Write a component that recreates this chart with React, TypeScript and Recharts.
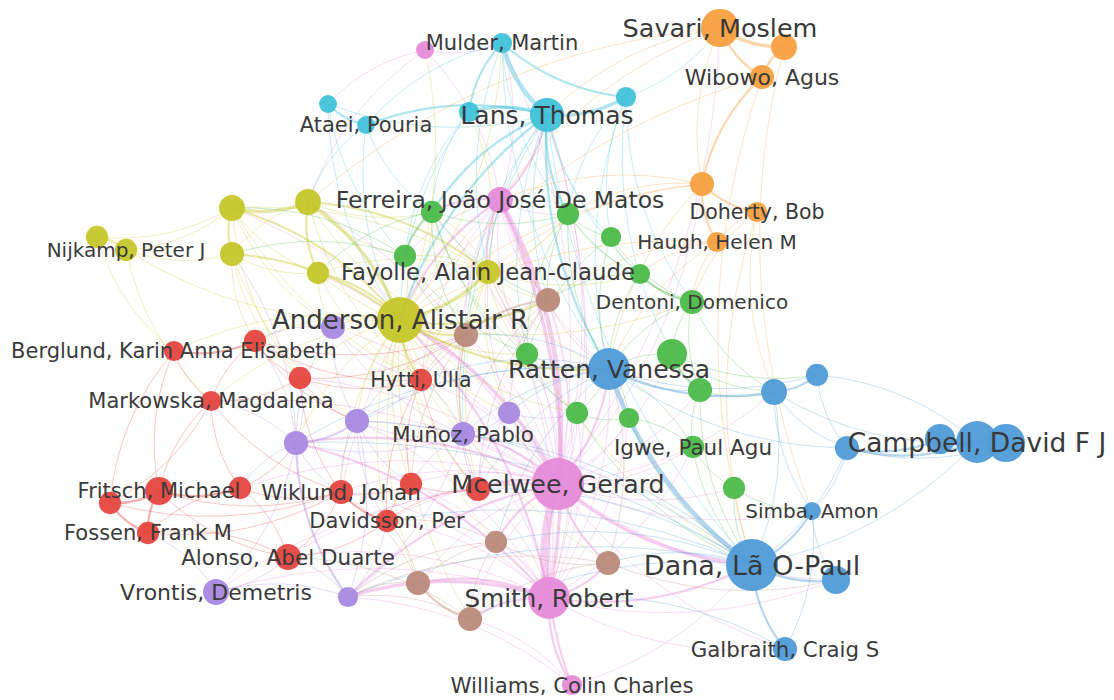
import React from 'react';
import { ScatterChart, Scatter, XAxis, YAxis, ZAxis, ReferenceLine } from 'recharts';

type MapNode = { id: string; x: number; y: number; w: number; label?: string };

// map coordinates (x to the right, y downward) and weights (documents)
const redNodes: MapNode[] = [
  { id: 'r_berglund', x: 174, y: 351, w: 14, label: 'Berglund, Karin Anna Elisabeth' },
  { id: 'r_1', x: 255, y: 341, w: 17 },
  { id: 'r_2', x: 300, y: 378, w: 17 },
  { id: 'r_hytti', x: 421, y: 380, w: 17, label: 'Hytti, Ulla' },
  { id: 'r_markowska', x: 211, y: 401, w: 14, label: 'Markowska, Magdalena' },
  { id: 'r_f0', x: 110, y: 503, w: 17 },
  { id: 'r_fritsch', x: 159, y: 491, w: 27, label: 'Fritsch, Michael' },
  { id: 'r_3', x: 240, y: 488, w: 17 },
  { id: 'r_wiklund', x: 341, y: 492, w: 20, label: 'Wiklund, Johan' },
  { id: 'r_4', x: 411, y: 484, w: 17 },
  { id: 'r_5', x: 478, y: 489, w: 20 },
  { id: 'r_davidsson', x: 387, y: 521, w: 17, label: 'Davidsson, Per' },
  { id: 'r_fossen', x: 148, y: 533, w: 17, label: 'Fossen, Frank M' },
  { id: 'r_alonso', x: 288, y: 557, w: 23, label: 'Alonso, Abel Duarte' },
];

const greenNodes: MapNode[] = [
  { id: 'g_1', x: 432, y: 212, w: 17 },
  { id: 'g_2', x: 568, y: 214, w: 17 },
  { id: 'g_3', x: 611, y: 237, w: 14 },
  { id: 'g_4', x: 405, y: 256, w: 17 },
  { id: 'g_5', x: 640, y: 274, w: 14 },
  { id: 'g_dentoni', x: 692, y: 302, w: 20, label: 'Dentoni, Domenico' },
  { id: 'g_6', x: 527, y: 354, w: 17 },
  { id: 'g_7', x: 672, y: 354, w: 31 },
  { id: 'g_8', x: 700, y: 390, w: 20 },
  { id: 'g_9', x: 577, y: 413, w: 17 },
  { id: 'g_10', x: 629, y: 418, w: 14 },
  { id: 'g_igwe', x: 693, y: 447, w: 17, label: 'Igwe, Paul Agu' },
  { id: 'g_11', x: 734, y: 488, w: 17 },
];

const blueNodes: MapNode[] = [
  { id: 'b_ratten', x: 609, y: 369, w: 60, label: 'Ratten, Vanessa' },
  { id: 'b_1', x: 774, y: 392, w: 23 },
  { id: 'b_2', x: 817, y: 375, w: 17 },
  { id: 'b_3', x: 847, y: 448, w: 20 },
  { id: 'b_4', x: 940, y: 439, w: 31 },
  { id: 'b_5', x: 1006, y: 443, w: 50 },
  { id: 'b_campbell', x: 977, y: 442, w: 60, label: 'Campbell, David F J' },
  { id: 'b_simba', x: 812, y: 511, w: 11, label: 'Simba, Amon' },
  { id: 'b_dana', x: 752, y: 565, w: 93, label: 'Dana, Lã O-Paul' },
  { id: 'b_6', x: 836, y: 580, w: 27 },
  { id: 'b_galbraith', x: 785, y: 649, w: 20, label: 'Galbraith, Craig S' },
];

const yellowNodes: MapNode[] = [
  { id: 'y_1', x: 232, y: 208, w: 23 },
  { id: 'y_2', x: 308, y: 202, w: 23 },
  { id: 'y_nij0', x: 97, y: 237, w: 17 },
  { id: 'y_nijkamp', x: 126, y: 250, w: 17, label: 'Nijkamp, Peter J' },
  { id: 'y_3', x: 232, y: 254, w: 20 },
  { id: 'y_4', x: 318, y: 273, w: 17 },
  { id: 'y_fayolle', x: 488, y: 272, w: 20, label: 'Fayolle, Alain Jean-Claude' },
  { id: 'y_anderson', x: 400, y: 320, w: 73, label: 'Anderson, Alistair R' },
];

const purpleNodes: MapNode[] = [
  { id: 'u_1', x: 333, y: 327, w: 20 },
  { id: 'u_2', x: 296, y: 443, w: 20 },
  { id: 'u_3', x: 357, y: 421, w: 20 },
  { id: 'u_munoz', x: 463, y: 434, w: 20, label: 'Muñoz, Pablo' },
  { id: 'u_4', x: 509, y: 413, w: 17 },
  { id: 'u_vrontis', x: 216, y: 592, w: 23, label: 'Vrontis, Demetris' },
  { id: 'u_5', x: 348, y: 597, w: 14 },
];

const cyanNodes: MapNode[] = [
  { id: 'c_mulder', x: 502, y: 43, w: 14, label: 'Mulder, Martin' },
  { id: 'c_lans2', x: 469, y: 112, w: 14 },
  { id: 'c_lans', x: 547, y: 115, w: 40, label: 'Lans, Thomas' },
  { id: 'c_a2', x: 328, y: 104, w: 11 },
  { id: 'c_ataei', x: 366, y: 125, w: 11, label: 'Ataei, Pouria' },
  { id: 'c_r', x: 626, y: 97, w: 14 },
];

const orangeNodes: MapNode[] = [
  { id: 'o_savari', x: 720, y: 28, w: 50, label: 'Savari, Moslem' },
  { id: 'o_2', x: 784, y: 47, w: 23 },
  { id: 'o_wibowo', x: 762, y: 77, w: 20, label: 'Wibowo, Agus' },
  { id: 'o_3', x: 702, y: 184, w: 20 },
  { id: 'o_doherty', x: 757, y: 212, w: 14, label: 'Doherty, Bob' },
  { id: 'o_haugh', x: 717, y: 242, w: 14, label: 'Haugh, Helen M' },
];

const brownNodes: MapNode[] = [
  { id: 'br_1', x: 548, y: 300, w: 20 },
  { id: 'br_2', x: 466, y: 335, w: 20 },
  { id: 'br_3', x: 496, y: 542, w: 17 },
  { id: 'br_4', x: 608, y: 563, w: 20 },
  { id: 'br_5', x: 418, y: 583, w: 20 },
  { id: 'br_6', x: 470, y: 619, w: 20 },
];

const pinkNodes: MapNode[] = [
  { id: 'p_top', x: 425, y: 50, w: 11 },
  { id: 'p_ferreira', x: 500, y: 200, w: 23, label: 'Ferreira, João José De Matos' },
  { id: 'p_mcelwee', x: 558, y: 484, w: 93, label: 'Mcelwee, Gerard' },
  { id: 'p_smith', x: 549, y: 598, w: 60, label: 'Smith, Robert' },
  { id: 'p_williams', x: 572, y: 685, w: 14, label: 'Williams, Colin Charles' },
];

// co-authorship links: [source, target, strength]
const links: [string, string, number][] = [
  // pink
  ['p_mcelwee', 'p_smith', 6], ['p_mcelwee', 'p_ferreira', 4], ['p_mcelwee', 'p_williams', 2], ['p_mcelwee', 'y_anderson', 3],
  ['p_mcelwee', 'b_ratten', 2], ['p_mcelwee', 'b_dana', 3], ['p_mcelwee', 'c_lans', 1], ['p_mcelwee', 'c_mulder', 1],
  ['p_mcelwee', 'y_fayolle', 1], ['p_mcelwee', 'br_1', 1], ['p_mcelwee', 'br_2', 1], ['p_mcelwee', 'br_3', 2],
  ['p_mcelwee', 'br_4', 2], ['p_mcelwee', 'br_5', 1], ['p_mcelwee', 'br_6', 1], ['p_mcelwee', 'u_1', 1],
  ['p_mcelwee', 'u_2', 2], ['p_mcelwee', 'u_3', 1], ['p_mcelwee', 'u_munoz', 2], ['p_mcelwee', 'u_4', 1],
  ['p_mcelwee', 'u_5', 2], ['p_mcelwee', 'u_vrontis', 1], ['p_mcelwee', 'r_hytti', 1], ['p_mcelwee', 'r_wiklund', 1],
  ['p_mcelwee', 'r_4', 1], ['p_mcelwee', 'r_5', 2], ['p_mcelwee', 'r_davidsson', 1], ['p_mcelwee', 'r_alonso', 1],
  ['p_mcelwee', 'r_2', 1], ['p_mcelwee', 'g_6', 1], ['p_mcelwee', 'g_9', 1], ['p_mcelwee', 'g_10', 1],
  ['p_mcelwee', 'g_igwe', 1], ['p_mcelwee', 'g_7', 1], ['p_mcelwee', 'g_1', 1], ['p_mcelwee', 'g_2', 1],
  ['p_mcelwee', 'y_2', 1], ['p_mcelwee', 'y_1', 1], ['p_mcelwee', 'y_4', 1], ['p_mcelwee', 'o_3', 1],
  ['p_mcelwee', 'o_savari', 1], ['p_mcelwee', 'b_1', 1], ['p_mcelwee', 'b_simba', 1], ['p_mcelwee', 'b_galbraith', 1],
  ['p_mcelwee', 'b_6', 1], ['p_mcelwee', 'r_3', 1], ['p_mcelwee', 'r_markowska', 1], ['p_mcelwee', 'g_11', 1],
  ['p_mcelwee', 'g_8', 1],
  ['p_smith', 'p_williams', 2], ['p_smith', 'p_ferreira', 3], ['p_smith', 'y_anderson', 2], ['p_smith', 'b_dana', 2],
  ['p_smith', 'b_ratten', 1], ['p_smith', 'br_3', 1], ['p_smith', 'br_4', 2], ['p_smith', 'br_5', 2],
  ['p_smith', 'br_6', 2], ['p_smith', 'u_5', 3], ['p_smith', 'u_2', 2], ['p_smith', 'u_3', 1],
  ['p_smith', 'u_munoz', 1], ['p_smith', 'r_alonso', 1], ['p_smith', 'r_davidsson', 1], ['p_smith', 'r_wiklund', 1],
  ['p_smith', 'r_5', 1], ['p_smith', 'g_9', 1], ['p_smith', 'g_igwe', 1], ['p_smith', 'b_6', 1],
  ['p_smith', 'b_galbraith', 1], ['p_smith', 'u_vrontis', 1], ['p_smith', 'c_lans', 1], ['p_smith', 'y_fayolle', 1],
  ['p_smith', 'br_1', 1], ['p_smith', 'r_4', 1], ['p_smith', 'g_10', 1], ['p_smith', 'u_4', 1],
  ['p_ferreira', 'g_1', 2], ['p_ferreira', 'g_2', 1], ['p_ferreira', 'g_4', 1], ['p_ferreira', 'c_lans', 2],
  ['p_ferreira', 'c_mulder', 1], ['p_ferreira', 'y_fayolle', 2], ['p_ferreira', 'y_anderson', 2], ['p_ferreira', 'br_1', 1],
  ['p_ferreira', 'br_2', 1], ['p_ferreira', 'u_munoz', 1], ['p_ferreira', 'u_4', 1], ['p_ferreira', 'b_ratten', 1],
  ['p_ferreira', 'g_6', 1], ['p_ferreira', 'p_top', 1], ['p_ferreira', 'r_wiklund', 1], ['p_ferreira', 'r_hytti', 1],
  ['p_top', 'c_mulder', 1], ['p_top', 'c_a2', 1], ['p_top', 'y_2', 1],
  ['p_williams', 'b_dana', 1], ['p_williams', 'br_6', 1], ['p_williams', 'u_5', 1],
  // cyan
  ['c_mulder', 'c_lans', 4], ['c_mulder', 'c_lans2', 2], ['c_mulder', 'c_r', 2], ['c_mulder', 'c_ataei', 1],
  ['c_lans', 'c_r', 3], ['c_lans', 'c_lans2', 3], ['c_lans', 'c_ataei', 2], ['c_a2', 'c_ataei', 2],
  ['c_a2', 'c_lans', 1], ['c_lans', 'g_2', 2], ['c_lans', 'g_3', 1], ['c_lans', 'g_1', 2],
  ['c_lans', 'y_anderson', 2], ['c_lans', 'b_ratten', 2], ['c_lans', 'br_1', 1], ['c_lans', 'g_6', 1],
  ['c_lans', 'g_5', 1], ['c_lans', 'b_dana', 1], ['c_lans', 'y_fayolle', 1], ['c_lans2', 'g_1', 1],
  ['c_lans2', 'y_anderson', 1], ['c_lans2', 'g_4', 1], ['c_r', 'g_3', 1], ['c_r', 'g_2', 1],
  ['c_r', 'b_ratten', 1], ['c_r', 'g_7', 1], ['c_mulder', 'y_fayolle', 1], ['c_mulder', 'b_ratten', 1],
  ['c_ataei', 'y_anderson', 1], ['c_ataei', 'y_2', 1], ['c_a2', 'y_anderson', 1], ['c_r', 'o_savari', 1],
  ['c_lans', 'u_munoz', 1], ['c_lans', 'br_2', 1], ['c_ataei', 'g_1', 1], ['c_a2', 'g_4', 1],
  ['c_r', 'g_dentoni', 1], ['c_mulder', 'g_2', 1],
  // orange
  ['o_savari', 'o_2', 3], ['o_savari', 'o_wibowo', 2], ['o_2', 'o_wibowo', 2], ['o_wibowo', 'o_3', 2],
  ['o_savari', 'o_3', 1], ['o_3', 'o_doherty', 2], ['o_3', 'o_haugh', 2], ['o_doherty', 'o_haugh', 1],
  ['o_3', 'y_anderson', 1], ['o_3', 'y_fayolle', 1], ['o_3', 'p_ferreira', 1], ['o_3', 'g_2', 1],
  ['o_haugh', 'g_dentoni', 1], ['o_haugh', 'g_5', 1], ['o_haugh', 'br_1', 1], ['o_haugh', 'y_anderson', 1],
  ['o_doherty', 'g_dentoni', 1], ['o_doherty', 'b_dana', 1], ['o_2', 'b_simba', 1], ['o_wibowo', 'b_dana', 1],
  ['o_savari', 'c_lans', 1], ['o_savari', 'p_ferreira', 1], ['o_wibowo', 'y_anderson', 1], ['o_savari', 'y_2', 1],
  ['o_3', 'b_ratten', 1], ['o_haugh', 'b_ratten', 1], ['o_doherty', 'b_1', 1],
  // yellow
  ['y_1', 'y_2', 3], ['y_1', 'y_3', 2], ['y_1', 'y_4', 1], ['y_2', 'y_4', 2], ['y_2', 'y_3', 1], ['y_3', 'y_4', 1],
  ['y_nijkamp', 'y_nij0', 2], ['y_nijkamp', 'y_1', 1], ['y_nijkamp', 'y_3', 1], ['y_nij0', 'y_1', 1],
  ['y_nijkamp', 'y_anderson', 1], ['y_anderson', 'y_1', 2], ['y_anderson', 'y_2', 3], ['y_anderson', 'y_3', 2],
  ['y_anderson', 'y_4', 2], ['y_anderson', 'y_fayolle', 3], ['y_fayolle', 'y_2', 2], ['y_fayolle', 'y_1', 1],
  ['y_fayolle', 'y_4', 1], ['y_2', 'g_1', 1], ['y_2', 'g_4', 1], ['y_anderson', 'g_4', 1],
  ['y_anderson', 'g_1', 1], ['y_anderson', 'g_6', 1], ['y_anderson', 'br_1', 2], ['y_anderson', 'br_2', 2],
  ['y_anderson', 'u_1', 1], ['y_anderson', 'r_hytti', 2], ['y_anderson', 'r_1', 1], ['y_anderson', 'r_2', 1],
  ['y_anderson', 'b_ratten', 2], ['y_anderson', 'u_3', 1], ['y_anderson', 'u_munoz', 1], ['y_anderson', 'r_wiklund', 1],
  ['y_anderson', 'r_davidsson', 1], ['y_anderson', 'br_3', 1], ['y_anderson', 'br_5', 1], ['y_anderson', 'u_2', 1],
  ['y_anderson', 'g_dentoni', 1], ['y_fayolle', 'br_1', 1], ['y_fayolle', 'g_5', 1], ['y_fayolle', 'b_ratten', 1],
  ['y_fayolle', 'r_hytti', 1], ['y_fayolle', 'u_4', 1], ['y_nijkamp', 'r_markowska', 1], ['y_nij0', 'r_berglund', 1],
  ['y_3', 'r_1', 1], ['y_1', 'r_2', 1], ['y_4', 'u_1', 1],
  ['y_anderson', 'r_markowska', 1], ['y_anderson', 'r_berglund', 1], ['y_anderson', 'r_4', 1], ['y_anderson', 'r_5', 1],
  ['y_anderson', 'br_4', 1], ['y_anderson', 'br_6', 1], ['y_anderson', 'u_4', 1], ['y_anderson', 'g_9', 1],
  ['y_anderson', 'g_2', 1], ['y_anderson', 'c_mulder', 1], ['y_anderson', 'p_top', 1], ['y_fayolle', 'g_1', 1],
  ['y_fayolle', 'g_2', 1], ['y_fayolle', 'g_4', 1], ['y_fayolle', 'br_2', 1], ['y_fayolle', 'u_munoz', 1],
  ['y_fayolle', 'r_5', 1], ['y_fayolle', 'g_6', 1], ['y_fayolle', 'b_dana', 1], ['y_fayolle', 'c_lans2', 1],
  ['y_2', 'br_2', 1], ['y_2', 'r_hytti', 1], ['y_1', 'u_1', 1], ['y_1', 'r_hytti', 1], ['y_4', 'br_2', 1],
  ['y_4', 'r_hytti', 1], ['y_3', 'u_3', 1], ['y_3', 'r_2', 1],
  // green
  ['g_1', 'g_4', 2], ['g_1', 'g_2', 1], ['g_1', 'g_6', 1], ['g_1', 'g_9', 1], ['g_2', 'g_3', 1], ['g_2', 'g_5', 1],
  ['g_2', 'g_dentoni', 1], ['g_3', 'g_5', 1], ['g_3', 'g_dentoni', 1], ['g_5', 'g_dentoni', 2], ['g_dentoni', 'g_7', 1],
  ['g_dentoni', 'g_8', 1], ['g_7', 'g_8', 2], ['g_7', 'b_ratten', 1], ['g_8', 'g_igwe', 1], ['g_igwe', 'g_11', 1],
  ['g_igwe', 'g_10', 1], ['g_9', 'g_10', 1], ['g_9', 'b_ratten', 1], ['g_10', 'b_ratten', 1], ['g_6', 'b_ratten', 1],
  ['g_igwe', 'b_ratten', 1], ['g_igwe', 'b_dana', 1], ['g_11', 'b_dana', 1], ['g_11', 'b_simba', 1], ['g_8', 'b_1', 1],
  ['g_7', 'b_1', 1], ['g_4', 'g_6', 1], ['g_6', 'g_9', 1], ['g_2', 'b_ratten', 1], ['g_3', 'b_ratten', 1],
  ['g_5', 'b_ratten', 1], ['g_1', 'br_1', 1], ['g_4', 'br_2', 1], ['g_2', 'br_1', 1],
  ['g_1', 'br_2', 1], ['g_1', 'y_4', 1], ['g_4', 'y_1', 1], ['g_4', 'y_3', 1], ['g_2', 'g_6', 1], ['g_3', 'g_6', 1],
  ['g_5', 'br_1', 1], ['g_dentoni', 'b_ratten', 1], ['g_dentoni', 'b_1', 1], ['g_7', 'b_2', 1], ['g_8', 'b_dana', 1],
  ['g_10', 'b_dana', 1], ['g_9', 'b_dana', 1],
  // blue
  ['b_ratten', 'b_dana', 4], ['b_ratten', 'b_1', 2], ['b_ratten', 'b_2', 1], ['b_1', 'b_2', 2], ['b_1', 'b_3', 1],
  ['b_2', 'b_3', 1], ['b_1', 'b_campbell', 1], ['b_3', 'b_4', 2], ['b_3', 'b_campbell', 2], ['b_4', 'b_campbell', 3],
  ['b_campbell', 'b_5', 3], ['b_4', 'b_5', 1], ['b_3', 'b_5', 1], ['b_dana', 'b_simba', 2], ['b_dana', 'b_6', 2],
  ['b_dana', 'b_galbraith', 2], ['b_simba', 'b_6', 1], ['b_dana', 'b_3', 1], ['b_dana', 'b_1', 1], ['b_simba', 'b_3', 1],
  ['b_dana', 'b_campbell', 1], ['b_ratten', 'b_3', 1], ['b_ratten', 'g_8', 1], ['b_dana', 'br_4', 1], ['b_dana', 'br_3', 1],
  ['b_dana', 'u_5', 1], ['b_dana', 'u_2', 1], ['b_ratten', 'br_2', 1], ['b_ratten', 'r_hytti', 1], ['b_ratten', 'u_munoz', 1],
  ['b_ratten', 'u_4', 1], ['b_ratten', 'br_3', 1], ['b_ratten', 'u_2', 1], ['b_dana', 'u_munoz', 1], ['b_dana', 'r_5', 1],
  ['b_campbell', 'b_2', 1], ['b_1', 'b_simba', 1], ['b_galbraith', 'b_simba', 1], ['b_dana', 'br_6', 1], ['b_galbraith', 'p_smith', 1],
  ['b_dana', 'r_davidsson', 1], ['b_dana', 'u_3', 1], ['b_ratten', 'r_5', 1], ['b_ratten', 'u_3', 1],
  // brown
  ['br_1', 'br_2', 2], ['br_1', 'u_4', 1], ['br_2', 'r_hytti', 1], ['br_2', 'u_munoz', 1], ['br_3', 'br_4', 1],
  ['br_3', 'br_5', 1], ['br_5', 'br_6', 2], ['br_4', 'br_6', 1], ['br_3', 'br_6', 1], ['br_5', 'u_5', 1],
  ['br_5', 'r_davidsson', 1], ['br_6', 'u_5', 1], ['br_1', 'r_5', 1], ['br_2', 'r_4', 1], ['br_4', 'b_6', 1],
  ['br_1', 'b_ratten', 1], ['br_1', 'u_munoz', 1], ['br_1', 'r_hytti', 1], ['br_2', 'u_3', 1], ['br_2', 'r_5', 1],
  ['br_3', 'r_davidsson', 1], ['br_3', 'u_5', 1], ['br_4', 'u_5', 1], ['br_4', 'b_ratten', 1], ['br_5', 'r_wiklund', 1],
  ['br_6', 'r_alonso', 1],
  // purple
  ['u_1', 'u_2', 1], ['u_1', 'u_3', 1], ['u_2', 'u_3', 2], ['u_2', 'u_munoz', 1], ['u_3', 'u_munoz', 1],
  ['u_munoz', 'u_4', 1], ['u_2', 'u_5', 2], ['u_5', 'u_vrontis', 1], ['u_vrontis', 'u_2', 1], ['u_vrontis', 'r_alonso', 1],
  ['u_2', 'r_markowska', 1], ['u_2', 'r_1', 1], ['u_2', 'r_2', 1], ['u_2', 'r_3', 1], ['u_3', 'r_hytti', 1],
  ['u_3', 'r_wiklund', 1], ['u_5', 'r_alonso', 1], ['u_5', 'r_davidsson', 1], ['u_5', 'u_munoz', 1], ['u_5', 'u_3', 1],
  ['u_1', 'r_1', 1], ['u_2', 'r_wiklund', 1], ['u_vrontis', 'r_fossen', 1], ['u_2', 'y_3', 1],
  ['u_munoz', 'r_hytti', 1], ['u_munoz', 'r_4', 1], ['u_munoz', 'r_5', 1], ['u_4', 'r_5', 1], ['u_4', 'g_9', 1],
  ['u_3', 'r_4', 1], ['u_3', 'r_davidsson', 1], ['u_1', 'r_hytti', 1], ['u_1', 'u_munoz', 1],
  // red
  ['r_berglund', 'r_1', 2], ['r_berglund', 'r_markowska', 1], ['r_1', 'r_2', 1], ['r_1', 'r_markowska', 1],
  ['r_markowska', 'r_2', 1], ['r_1', 'r_hytti', 1], ['r_2', 'r_hytti', 1], ['r_f0', 'r_fritsch', 2],
  ['r_fritsch', 'r_3', 2], ['r_f0', 'r_fossen', 2], ['r_fritsch', 'r_fossen', 2], ['r_3', 'r_fossen', 1],
  ['r_3', 'r_wiklund', 1], ['r_fritsch', 'r_wiklund', 1], ['r_wiklund', 'r_4', 1], ['r_wiklund', 'r_davidsson', 2],
  ['r_4', 'r_davidsson', 1], ['r_4', 'r_5', 1], ['r_5', 'r_davidsson', 1], ['r_alonso', 'r_davidsson', 1],
  ['r_alonso', 'r_wiklund', 1], ['r_alonso', 'r_fossen', 1], ['r_alonso', 'r_3', 1], ['r_markowska', 'r_fritsch', 1],
  ['r_berglund', 'r_fritsch', 1], ['r_berglund', 'r_f0', 1], ['r_markowska', 'r_wiklund', 1], ['r_2', 'r_wiklund', 1],
  ['r_hytti', 'r_4', 1], ['r_hytti', 'r_5', 1], ['r_hytti', 'r_davidsson', 1], ['r_1', 'br_2', 1],
  ['r_2', 'br_2', 1], ['r_markowska', 'r_3', 1], ['r_fritsch', 'r_alonso', 1], ['r_f0', 'r_markowska', 1],
  ['r_1', 'u_3', 1], ['r_2', 'u_3', 1], ['r_3', 'u_2', 1], ['r_fossen', 'r_wiklund', 1], ['r_f0', 'r_wiklund', 1],
];

// ---------- styling (kept out of the data) ----------
const CLUSTERS: { key: string; color: string; nodes: MapNode[] }[] = [
  { key: 'red', color: '#e5463f', nodes: redNodes },
  { key: 'green', color: '#4cba4a', nodes: greenNodes },
  { key: 'blue', color: '#4f9bd8', nodes: blueNodes },
  { key: 'yellow', color: '#c6c62a', nodes: yellowNodes },
  { key: 'purple', color: '#a889e2', nodes: purpleNodes },
  { key: 'cyan', color: '#41c2d9', nodes: cyanNodes },
  { key: 'orange', color: '#f5a03f', nodes: orangeNodes },
  { key: 'brown', color: '#b98a7a', nodes: brownNodes },
  { key: 'pink', color: '#e68bd9', nodes: pinkNodes },
];

const LABEL_PX: Record<string, number> = {
  c_mulder: 21, c_lans: 25, c_ataei: 21, o_savari: 25.5, o_wibowo: 22, p_ferreira: 23.5,
  o_doherty: 20.5, o_haugh: 20, y_nijkamp: 20, y_fayolle: 22.8, g_dentoni: 20, y_anderson: 26,
  r_berglund: 21, b_ratten: 25, r_hytti: 20.5, r_markowska: 21, u_munoz: 21.5, g_igwe: 21.5,
  b_campbell: 26.5, r_fritsch: 21, r_wiklund: 21.5, p_mcelwee: 25.3, r_davidsson: 21, b_simba: 20,
  r_fossen: 21, r_alonso: 21.5, b_dana: 27, u_vrontis: 22, p_smith: 24.6, b_galbraith: 21.3,
  p_williams: 21.3,
};

const allNodes: (MapNode & { color: string })[] = CLUSTERS.flatMap((c) =>
  c.nodes.map((n) => ({ ...n, color: c.color }))
);
const nodeById: Record<string, MapNode & { color: string }> = {};
allNodes.forEach((n) => {
  nodeById[n.id] = n;
});
const labelNodes = allNodes.filter((n) => n.label);

const edgeShape = (color: string, width: number, opacity: number) => (props: any) => {
  const { x1, y1, x2, y2 } = props;
  if ([x1, y1, x2, y2].some((v) => typeof v !== 'number' || isNaN(v))) return <g />;
  const mx = (x1 + x2) / 2;
  const my = (y1 + y2) / 2;
  const k = 0.16;
  const qx = mx - (y2 - y1) * k;
  const qy = my + (x2 - x1) * k;
  return (
    <path
      d={`M${x1},${y1} Q${qx},${qy} ${x2},${y2}`}
      stroke={color}
      strokeWidth={width}
      strokeOpacity={opacity}
      fill="none"
      strokeLinecap="round"
    />
  );
};

const nodeShape = (color: string) => (p: any) => {
  const r = (p.width || 0) / 2;
  return <circle cx={p.cx} cy={p.cy} r={r} fill={color} fillOpacity={0.95} />;
};

const labelShape = (p: any) => {
  const n = p.payload as MapNode;
  return (
    <text
      x={p.cx}
      y={p.cy}
      textAnchor="middle"
      dominantBaseline="central"
      fontFamily="'DejaVu Sans', Verdana, sans-serif"
      fontSize={LABEL_PX[n.id] || 21}
      fill="#3a3a3a"
    >
      {n.label}
    </text>
  );
};

export default function App() {
  return (
    <div style={{ position: 'absolute', left: 0, top: 0, width: 1114, height: 700, background: '#ffffff' }}>
      <ScatterChart width={1114} height={700} margin={{ top: 0, right: 0, bottom: 0, left: 0 }}>
        <XAxis type="number" dataKey="x" domain={[0, 1114]} hide allowDataOverflow />
        <YAxis type="number" dataKey="y" domain={[0, 700]} reversed hide allowDataOverflow />
        <ZAxis type="number" dataKey="w" domain={[0, 100]} range={[0, 2290]} />
        {links.map(([s, t, w], i) => {
          const a = nodeById[s];
          const b = nodeById[t];
          if (!a || !b) return null;
          const width = w > 1 ? 1 + (w - 1) * 1.2 : 1;
          const op = w > 1 ? 0.42 : 0.3;
          return (
            <ReferenceLine
              key={`e${i}`}
              segment={[
                { x: a.x, y: a.y },
                { x: b.x, y: b.y },
              ]}
              ifOverflow="visible"
              shape={edgeShape(a.color, width, op)}
            />
          );
        })}
        {CLUSTERS.map((c) => (
          <Scatter
            key={c.key}
            name={c.key}
            data={c.nodes}
            fill={c.color}
            shape={nodeShape(c.color)}
            isAnimationActive={false}
          />
        ))}
        <Scatter name="labels" data={labelNodes} shape={labelShape} isAnimationActive={false} />
      </ScatterChart>
    </div>
  );
}
